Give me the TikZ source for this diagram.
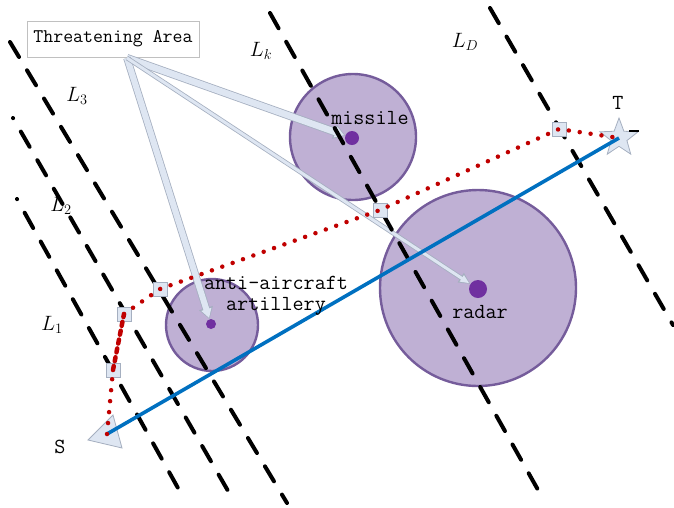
\documentclass[tikz,border=0pt]{standalone}
\usepackage{fontspec}
\usepackage{tikz}
\usetikzlibrary{arrows.meta}
\usetikzlibrary{shapes.geometric}
\definecolor{zonefill}{RGB}{191,176,212}
\definecolor{zoneedge}{RGB}{117,92,155}
\definecolor{hubpurple}{RGB}{112,48,160}
\definecolor{trackblue}{RGB}{0,112,192}
\definecolor{routered}{RGB}{192,0,0}
\definecolor{arrowfill}{RGB}{222,230,242}
\definecolor{arrowedge}{RGB}{165,175,192}
\definecolor{boxgray}{RGB}{192,192,192}
\tikzset{zone/.style = {circle, draw=zoneedge, fill=zonefill, line width=2.4pt, inner sep=0pt}}
\tikzset{hub/.style = {circle, fill=hubpurple, inner sep=0pt, minimum size=#1}}
\tikzset{bound/.style = {line width=4pt, line cap=round, dash pattern=on 17.5pt off 15.5pt}}
\tikzset{hollow/.style = {draw=arrowfill, line width=#1, shorten >=1.2pt,
                          -{Triangle[length=9pt, width=4pt 1]},
                          preaction={draw=arrowedge, line width=#1+1.6pt, shorten >=0pt,
                                     -{Triangle[length=11.5pt, width=6pt 1]}}}}
\tikzset{tabox/.style = {draw=boxgray, fill=white, line width=0.8pt, minimum width=172pt,
                         minimum height=36pt, font=\fontsize{19.3}{22}\selectfont\ttfamily}}
\tikzset{wp/.style = {draw=arrowedge, fill=arrowfill, line width=0.8pt, minimum size=14pt, inner sep=0pt}}
\tikzset{track/.style = {draw=trackblue, line width=3.6pt}}
\tikzset{route/.style = {draw=routered, line width=4.5pt, line cap=round, dash pattern=on 0pt off 11pt}}
\tikzset{lbl/.style = {font=\fontsize{21}{24}\selectfont, inner sep=0pt}}
\tikzset{zonelbl/.style = {font=\fontsize{21.5}{21}\selectfont\ttfamily, inner sep=0pt}}

\begin{document}
\begin{tikzpicture}[x=1pt, y=-1pt]
  \useasboundingbox (0,0) rectangle (674,507);
  % threat zones
  \node[zone, minimum size=126pt] (missile) at (353,137) {};
  \node[zone, minimum size=92pt] (aaa) at (212,325) {};
  \node[zone, minimum size=196pt] (radar) at (478,288) {};
  \node[hub=14pt] (mdot) at (352,138) {};
  \node[hub=10pt] (adot) at (211,324) {};
  \node[hub=18pt] (rdot) at (478,289) {};
  % pointers from the legend box
  \node[tabox] (ta) at (113,39) {Threatening Area};
  \coordinate (src) at (127,58);
  \draw[hollow=6.5pt] (src) -- (mdot);
  \draw[hollow=6pt] (src) -- (adot);
  \draw[hollow=3pt] (src) -- (rdot);
  % boundary lines
  \draw[bound] (10,42) -- (287,503);
  \draw[bound, dash phase=17.3pt] (13,118) -- (235,503);
  \draw[bound, dash phase=17.3pt] (17,199) -- (183,497);
  \draw[bound] (270,13) -- (542,497);
  \draw[bound] (490,8) -- (673,325);
  % start and target
  \draw[draw=arrowedge, fill=arrowfill, line width=0.8pt] (88,440) -- (113,415) -- (122,448) -- cycle;
  \node[star, star points=5, star point ratio=2.4, minimum size=40pt, inner sep=0pt,
        draw=arrowedge, fill=arrowfill, line width=0.8pt] (t) at (619,138) {};
  \draw[line width=1.3pt] (629,131) -- (639,131);
  \coordinate (s) at (107,434);
  \draw[track] (s) -- (t.center);
  % planned route
  \node[wp] (w1) at (113,370) {};
  \node[wp] (w2) at (124,314) {};
  \node[wp] (w3) at (160,289) {};
  \node[wp] (w4) at (380,210) {};
  \node[wp] (w5) at (559,129) {};
  \draw[route] (s) -- (w1.center);
  \draw[route, dash pattern=on 4pt off 5pt] (w1.center) -- (w2.center);
  \draw[route] (w2.center) -- (w3.center) -- (w4.center) -- (w5.center) -- (t.center);
  % labels
  \node[lbl] (l3) at (77,96) {$L_3$};
  \node[lbl] (l2) at (61,206) {$L_2$};
  \node[lbl] (l1) at (52,325) {$L_1$};
  \node[lbl] (lk) at (261,51) {$L_k$};
  \node[lbl] (ld) at (465,42) {$L_D$};
  \node[zonelbl] (mtext) at (370,118) {missile};
  \node[zonelbl, align=center] (atext) at (276,296) {anti-aircraft\\artillery};
  \node[zonelbl] (rtext) at (480,312) {radar};
  \node[zonelbl] (stext) at (60,447) {S};
  \node[zonelbl] (ttext) at (618,103) {T};
\end{tikzpicture}
\end{document}
